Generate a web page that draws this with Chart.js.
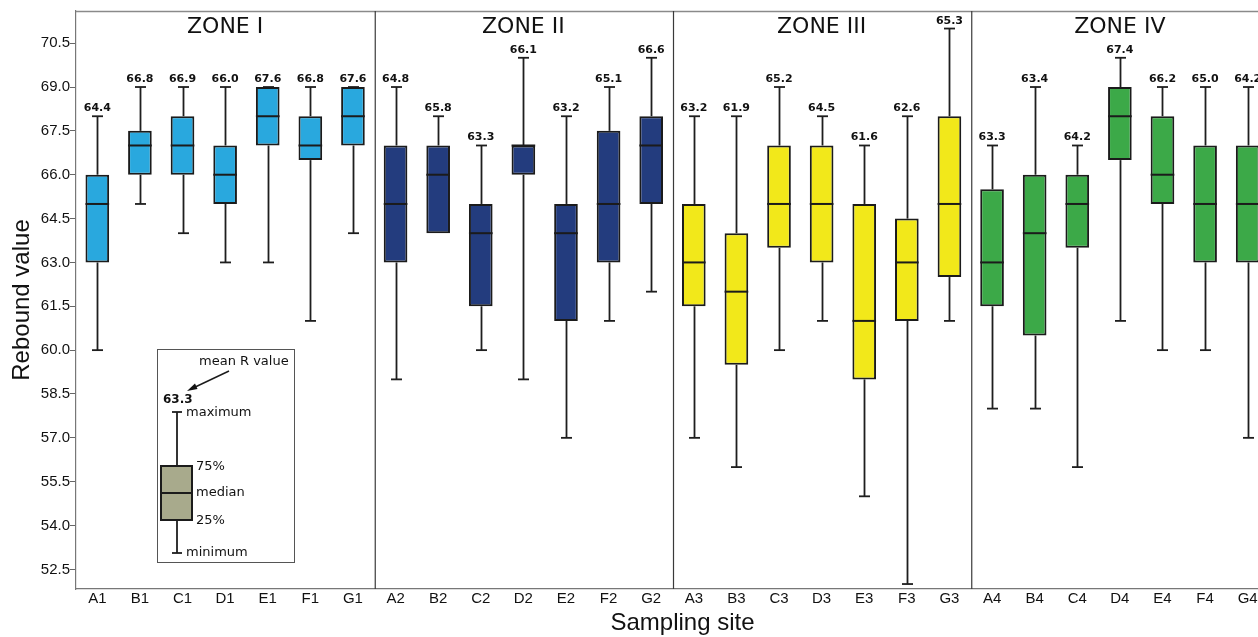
<!DOCTYPE html>
<html><head><meta charset="utf-8">
<script src="https://cdn.jsdelivr.net/npm/chart.js@4.4.1/dist/chart.umd.min.js"></script>
<style>
html,body{margin:0;padding:0;background:#fff;overflow:hidden;width:1258px;height:637px}
#wrap{position:absolute;left:0;top:0;width:1290px;height:637px}
</style>
</head><body><div id="wrap"><canvas id="c" width="1290" height="637"></canvas></div>
<script>
// ---- data ----
const sites = ['A1','B1','C1','D1','E1','F1','G1',
               'A2','B2','C2','D2','E2','F2','G2',
               'A3','B3','C3','D3','E3','F3','G3',
               'A4','B4','C4','D4','E4','F4','G4'];
const zones = ['ZONE I','ZONE II','ZONE III','ZONE IV'];
const zoneColors = ['#29a8de','#233c7e','#f2e81a','#3ca948'];
const mins    = [60,65,64,63,63,61,64,  59,64,60,59,57,61,62,  57,56,60,61,55,52,61,  58,58,56,61,60,60,57];
const q1s     = [63,66,66,65,67,66.5,67, 63,64,61.5,66,61,63,65, 61.5,59.5,63.5,63,59,61,62.5, 61.5,60.5,63.5,66.5,65,63,63];
const medians = [65,67,67,66,68,67,68,  65,66,64,67,64,65,67,  63,62,65,65,61,63,65,  63,64,65,68,66,65,65];
const q3s     = [66,67.5,68,67,69,68,69, 67,67,65,67,65,67.5,68, 65,64,67,67,65,64.5,68, 65.5,66,66,69,68,67,67];
const maxs    = [68,69,69,69,69,69,69,  69,68,67,70,68,69,70,  68,68,69,68,67,68,71,  67,69,67,70,69,69,69];
const means   = [64.4,66.8,66.9,66.0,67.6,66.8,67.6, 64.8,65.8,63.3,66.1,63.2,65.1,66.6,
                 63.2,61.9,65.2,64.5,61.6,62.6,65.3, 63.3,63.4,64.2,67.4,66.2,65.0,64.2];
const yTicks  = [52.5,54.0,55.5,57.0,58.5,60.0,61.5,63.0,64.5,66.0,67.5,69.0,70.5];
const yMin = 51.83, yMax = 71.6;

const zoneOf = s => parseInt(s.slice(1), 10) - 1;

function line(ctx, x1, y1, x2, y2){ ctx.beginPath(); ctx.moveTo(x1,y1); ctx.lineTo(x2,y2); ctx.stroke(); }

const boxPlugin = {
  id: 'boxExtras',
  beforeDatasetsDraw(chart){
    const {ctx, chartArea: a, scales: {x, y}} = chart;
    ctx.save();
    // top frame
    ctx.strokeStyle = '#8a8a8a'; ctx.lineWidth = 1.5;
    line(ctx, a.left, a.top + 0.5, a.right + 30, a.top + 0.5);
    // zone dividers
    ctx.strokeStyle = '#3a3a3a'; ctx.lineWidth = 1.2;
    for (let z = 1; z < zones.length; z++){
      const i = sites.findIndex(s => zoneOf(s) === z);
      const px = (x.getPixelForValue(i - 1) + x.getPixelForValue(i)) / 2 + 1;
      line(ctx, px, a.top, px, a.bottom);
    }
    // whiskers + caps
    ctx.strokeStyle = '#1e1e1e'; ctx.lineWidth = 1.8;
    sites.forEach((s, i) => {
      const cx = Math.round(x.getPixelForValue(i)) + 0.5;
      const yMaxP = y.getPixelForValue(maxs[i]), yMinP = y.getPixelForValue(mins[i]);
      line(ctx, cx, yMaxP, cx, y.getPixelForValue(q3s[i]));
      line(ctx, cx, y.getPixelForValue(q1s[i]), cx, yMinP);
      line(ctx, cx - 5.5, yMaxP, cx + 5.5, yMaxP);
      if (mins[i] !== q1s[i]) line(ctx, cx - 5.5, yMinP, cx + 5.5, yMinP);
    });
    ctx.restore();
  },
  afterDatasetsDraw(chart){
    const {ctx, chartArea: a, scales: {x, y}} = chart;
    const meta = chart.getDatasetMeta(0);
    ctx.save();
    // medians
    ctx.strokeStyle = '#1b1b1b'; ctx.lineWidth = 2;
    meta.data.forEach((bar, i) => {
      const {x: bx, width: bw} = bar.getProps(['x','width'], true);
      const my = y.getPixelForValue(medians[i]);
      line(ctx, bx - bw/2, my, bx + bw/2, my);
    });
    // mean labels
    ctx.fillStyle = '#111';
    ctx.font = 'bold 11px "DejaVu Sans"';
    ctx.textAlign = 'center'; ctx.textBaseline = 'alphabetic';
    sites.forEach((s, i) => {
      ctx.fillText(means[i].toFixed(1), x.getPixelForValue(i), y.getPixelForValue(maxs[i]) - 5);
    });
    // zone titles
    ctx.font = '22px "DejaVu Sans"'; ctx.fillStyle = '#111'; ctx.textBaseline = 'middle';
    zones.forEach((zn, z) => {
      const idx = sites.map((s,i)=>i).filter(i => zoneOf(sites[i]) === z);
      const cx = (x.getPixelForValue(idx[0]) + x.getPixelForValue(idx[idx.length-1])) / 2;
      ctx.fillText(zn, cx, a.top + 16);
    });
    // explanatory legend box
    const L = {left: 157, top: 349, right: 294, bottom: 562, cx: 177};
    ctx.strokeStyle = '#555'; ctx.lineWidth = 1;
    ctx.strokeRect(L.left + 0.5, L.top + 0.5, L.right - L.left, L.bottom - L.top);
    ctx.strokeStyle = '#1e1e1e'; ctx.lineWidth = 1.8;
    line(ctx, L.cx, 412, L.cx, 466);
    line(ctx, L.cx, 520, L.cx, 553);
    line(ctx, L.cx - 5, 412, L.cx + 5, 412);
    line(ctx, L.cx - 5, 553, L.cx + 5, 553);
    ctx.fillStyle = '#a8aa8c';
    ctx.fillRect(161, 466, 31, 54);
    ctx.lineWidth = 2; ctx.strokeStyle = '#1b1b1b';
    ctx.strokeRect(161, 466, 31, 54);
    line(ctx, 161, 493, 192, 493);
    // arrow
    ctx.lineWidth = 1.4;
    line(ctx, 229, 371, 191, 389);
    ctx.beginPath(); ctx.moveTo(187, 391); ctx.lineTo(195, 383.5); ctx.lineTo(197.5, 389); ctx.closePath();
    ctx.fillStyle = '#111'; ctx.fill();
    ctx.fillStyle = '#111'; ctx.textAlign = 'left'; ctx.textBaseline = 'middle';
    ctx.font = '13px "DejaVu Sans"';
    ctx.fillText('mean R value', 199, 362);
    ctx.fillText('maximum', 186, 413);
    ctx.fillText('75%', 196, 467);
    ctx.fillText('median', 196, 493);
    ctx.fillText('25%', 196, 521);
    ctx.fillText('minimum', 186, 553);
    ctx.font = 'bold 12px "DejaVu Sans"';
    ctx.textBaseline = 'alphabetic';
    ctx.fillText('63.3', 163, 403);
    ctx.restore();
  },
  afterDraw(chart){
    const {ctx, chartArea: a} = chart;
    ctx.save();
    ctx.fillStyle = '#111';
    ctx.font = '24px "Liberation Sans"';
    ctx.textAlign = 'center'; ctx.textBaseline = 'alphabetic';
    ctx.fillText('Sampling site', (a.left + a.right) / 2 + 10, 630);
    ctx.translate(28.5, (a.top + a.bottom) / 2);
    ctx.rotate(-Math.PI / 2);
    ctx.fillText('Rebound value', 0, 0);
    ctx.restore();
  }
};

new Chart(document.getElementById('c'), {
  type: 'bar',
  data: {
    labels: sites,
    datasets: [{
      data: sites.map((s, i) => [q1s[i], q3s[i]]),
      backgroundColor: sites.map(s => zoneColors[zoneOf(s)]),
      borderColor: '#1b1b1b',
      borderWidth: 2,
      borderSkipped: false,
      barPercentage: 0.555,
      categoryPercentage: 1
    }]
  },
  options: {
    responsive: false,
    devicePixelRatio: 1,
    animation: false,
    layout: {padding: {left: 0, top: 11, right: 21, bottom: 0}},
    plugins: {legend: {display: false}, tooltip: {enabled: false}},
    scales: {
      x: {
        grid: {display: false, drawTicks: false},
        border: {color: '#777', width: 1.2},
        ticks: {font: {family: 'Liberation Sans', size: 15}, color: '#111', padding: 1, autoSkip: false, maxRotation: 0},
        afterFit(s){ s.height = 48; }
      },
      y: {
        min: yMin, max: yMax,
        afterBuildTicks(s){ s.ticks = yTicks.map(v => ({value: v})); },
        grid: {drawOnChartArea: false, tickLength: 6, color: '#666'},
        border: {color: '#777', width: 1.2},
        ticks: {font: {family: 'Liberation Sans', size: 15}, color: '#111', padding: 0, callback: v => Number(v).toFixed(1)},
        afterFit(s){ s.width = 76; }
      }
    }
  },
  plugins: [boxPlugin]
});
</script>
</body></html>
